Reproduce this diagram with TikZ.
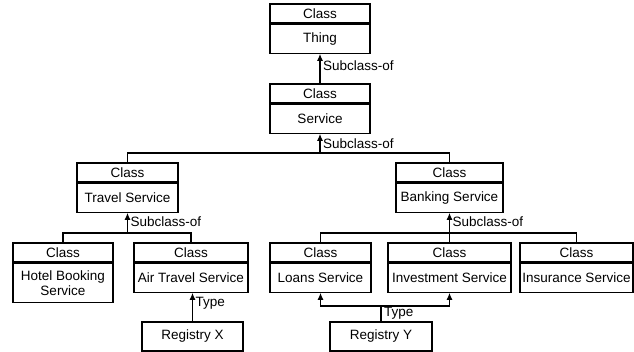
\documentclass[tikz,border=0pt]{standalone}
\usepackage{fontspec}
\setmainfont{Liberation Sans}
\usetikzlibrary{arrows.meta,positioning}

\begin{document}
\begin{tikzpicture}[x=1pt,y=-1pt,line width=1.2pt,
  >={Latex[length=7pt,width=6pt]},
  font=\fontsize{13.5}{15}\selectfont,
  classhead/.style={draw,minimum height=19pt,inner sep=0pt},
  classbody/.style={draw,minimum height=29pt,inner sep=0pt,align=center},
  registry/.style={draw,minimum height=29pt,inner sep=0pt},
  rel/.style={anchor=west,inner sep=1pt,xshift=1.5pt}]
\useasboundingbox (0,0) rectangle (634,352);

% top of the tree
\node[classhead,minimum width=100pt] (thingh) at (320,13.5) {Class};
\node[classbody,minimum width=100pt,below=0pt of thingh] (thing) {Thing};
\node[classhead,minimum width=100pt] (serviceh) at (320,93.5) {Class};
\node[classbody,minimum width=100pt,below=0pt of serviceh] (service) {Service};

% second level
\node[classhead,minimum width=101pt] (travelh) at (127.5,172.5) {Class};
\node[classbody,minimum width=101pt,below=0pt of travelh] (travel) {Travel Service};
\node[classhead,minimum width=107pt] (bankingh) at (449.5,172.5) {Class};
\node[classbody,minimum width=107pt,below=0pt of bankingh] (banking) {Banking Service};

% leaves
\node[classhead,minimum width=100pt] (hotelh) at (63,252.5) {Class};
\node[classbody,minimum width=100pt,minimum height=39pt,below=0pt of hotelh] (hotel) {Hotel Booking\\Service};
\node[classhead,minimum width=114pt] (airh) at (191,252.5) {Class};
\node[classbody,minimum width=114pt,below=0pt of airh] (air) {Air Travel Service};
\node[classhead,minimum width=101pt] (loansh) at (320.5,252.5) {Class};
\node[classbody,minimum width=101pt,below=0pt of loansh] (loans) {Loans Service};
\node[classhead,minimum width=123pt] (investh) at (449.5,252.5) {Class};
\node[classbody,minimum width=123pt,below=0pt of investh] (invest) {Investment Service};
\node[classhead,minimum width=113pt] (insurh) at (576.5,252.5) {Class};
\node[classbody,minimum width=113pt,below=0pt of insurh] (insur) {Insurance Service};

% registries
\node[registry,minimum width=101pt] (regx) at (192.5,336.5) {Registry X};
\node[registry,minimum width=102pt] (regy) at (381,336.5) {Registry Y};

\coordinate (j1) at (320,153);
\coordinate (j2) at (127.5,233);
\coordinate (j3) at (449.5,233);
\coordinate (j4) at (381,306);

\draw[->] (serviceh.north) -- (thing.south) node[rel,pos=0.6] {Subclass-of};
\draw (travelh.north) |- (j1) -| (bankingh.north);
\draw[->] (j1) -- (service.south) node[rel,midway] {Subclass-of};
\draw (hotelh.north) |- (j2) -| (airh.north);
\draw[->] (j2) -- (travel.south) node[rel,pos=0.55] {Subclass-of};
\draw (loansh.north) |- (j3) -| (insurh.north);
\draw (investh.north) -- (j3);
\draw[->] (j3) -- (banking.south) node[rel,pos=0.55] {Subclass-of};
\draw[->] (regx.north) -- (regx.north |- air.south) node[rel,pos=0.63] {Type};
\draw (regy.north) -- (j4) node[rel,midway] {Type};
\draw[->] (j4) -| (loans.south);
\draw[->] (j4) -| (invest.south);
\end{tikzpicture}
\end{document}
